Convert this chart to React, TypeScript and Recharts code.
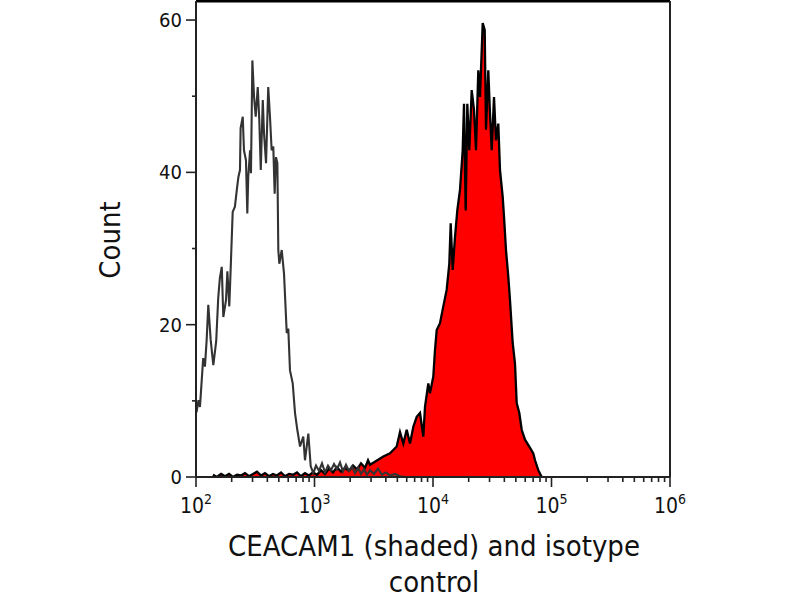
import React from 'react';
import { ComposedChart, Line, Area, XAxis, YAxis, Label, ReferenceLine } from 'recharts';

// Isotype control histogram (fluorescence intensity, count)
const isotypeIntensity = [
  101, 105, 108, 111, 115, 119, 123, 127, 133, 140, 148, 154, 159, 165, 170, 179, 184, 191, 196,
  204, 213, 221, 228, 235, 238, 248, 254, 264, 271, 276, 286, 291, 299, 309, 319, 332, 342, 352,
  366, 375, 390, 407, 421, 435, 449, 461, 473, 486, 495, 505, 529, 553, 583, 601, 621, 655, 685,
  716, 755, 804, 831, 887, 929, 977, 1030, 1091, 1157, 1226, 1300, 1378, 1461, 1548, 1641, 1740,
  1844, 1955, 2073, 2197, 2329, 2469, 2617, 2774, 2941, 3178, 3435, 3712, 4012, 4336, 4778, 5266,
  5803,
];
const isotypeCount = [
  8.5, 10.1, 9.2, 12, 15.6, 14.5, 18, 22.6, 18, 14.7, 17.8, 23.5, 26.1, 27.6, 21, 23.2, 27, 22.4, 27.2,
  34.8, 35.5, 37.7, 39.4, 40.3, 45.8, 47.3, 42.9, 41.6, 34.6, 39.4, 42.9, 39.9, 54.7, 49.9, 47.3, 51.2, 46.9, 40.3,
  49.5, 45.1, 41.2, 51.2, 47.3, 42.9, 43.4, 37.2, 42, 41.2, 29.8, 28, 29.8, 26.7, 18.9, 19.5, 14, 12.3, 8.4,
  6.2, 4, 5.3, 2.2, 5.7, 1.4, 0.5, 1.5, 0.8, 1.8, 0.6, 1.5, 0.9, 1.7, 1.0, 1.9, 0.7,
  1.6, 0.8, 1.4, 0.5, 1.2, 0.4, 1.0, 0.3, 0.9, 0.4, 1.1, 0.3, 0.6, 0.2, 0.4, 0.1,
  0,
];

// CEACAM1 stained histogram (shaded)
const ceacamIntensity = [
  139, 150, 163, 176, 190, 205, 222, 240, 259, 280, 303, 327, 354, 382, 413, 446, 482, 522, 564,
  609, 659, 712, 769, 831, 898, 971, 1050, 1134, 1226, 1326, 1432, 1548, 1673, 1809, 1955, 2113,
  2284, 2469, 2668, 2829, 2941, 3807, 4336, 4939, 5266, 5616, 6000, 6398, 6821, 7286, 7770, 8282,
  8560, 9127, 9434, 10059, 10397, 10746, 11457, 12216, 13048, 13725, 14104, 14661, 15333, 16034,
  16896, 17806, 18262, 18874, 19475, 20245, 21212, 22182, 23062, 24117, 24925, 26267, 27309, 28010,
  29289, 30270, 31289, 32720, 34012, 35572, 36764, 38744, 39737, 41305, 43193, 44648, 47052, 49204,
  50854, 53495, 56050, 59760, 64960, 70230, 72590, 77380, 82650,
];
const ceacamCount = [
  0.3, 0, 0.4, 0.1, 0.4, 0, 0.3, 0.2, 0.5, 0.1, 0.4, 0.7, 0.2, 0.5, 0.1, 0.4, 0.2, 0.6, 0.1,
  0.4, 0.3, 0.6, 0.1, 0.5, 0.2, 0.6, 0.3, 0.9, 0.4, 1.1, 0.6, 1.3, 0.7, 1.2, 0.8, 1.5,
  1.0, 1.8, 1.2, 2.2, 1.6, 2.7, 3.1, 4.0, 5.9, 4.4, 6.2, 4.4, 6.6, 7.9, 8.4, 5.3,
  9.2, 12.3, 11, 13.2, 16.7, 19.3, 20.2, 22.4, 24.6, 28, 33.3, 27.2, 31.5, 35,
  37.7, 42.9, 49, 35, 49, 42.9, 50.8, 48.2, 42.9, 53.4, 49.9, 59.6, 58.7, 45.6,
  53.4, 47.7, 42.9, 49.9, 44.2, 46.4, 40.3, 36.8, 34.2, 29.8, 26.3, 23.2, 17.6, 14.9,
  9.7, 8.4, 6.2, 4.9, 4.0, 3.1, 2.2, 0.9, 0,
];

const xTicks = [
  100, 200, 300, 400, 500, 600, 700, 800, 900,
  1000, 2000, 3000, 4000, 5000, 6000, 7000, 8000, 9000,
  10000, 20000, 30000, 40000, 50000, 60000, 70000, 80000, 90000,
  100000, 200000, 300000, 400000, 500000, 600000, 700000, 800000, 900000,
  1000000,
];
const yTicks = [0, 10, 20, 30, 40, 50, 60];
const yLabelled = [0, 20, 40, 60];
const xMax = 1000000;
const yMax = 62.5;

const xTitle = ['CEACAM1 (shaded) and isotype', 'control'];
const yTitle = 'Count';

const isotypeData = isotypeIntensity.map((x, i) => ({ x, count: isotypeCount[i] }));
const ceacamData = ceacamIntensity.map((x, i) => ({ x, count: ceacamCount[i] }));

const FONT = '"DejaVu Sans Condensed", "DejaVu Sans", sans-serif';
const AXIS = '#222';

const XTick = (props: any) => {
  const { x, y, payload } = props;
  const lg = Math.log10(payload.value);
  const exp = Math.round(lg);
  const major = Math.abs(lg - exp) < 1e-6;
  return (
    <g>
      <line x1={x} x2={x} y1={y} y2={y + (major ? 10 : 5)} stroke={AXIS} strokeWidth={1.6} />
      {major && (
        <text x={x} y={y + 36} textAnchor="middle" fontSize={21} fill="#111" fontFamily={FONT}>
          <tspan>10</tspan>
          <tspan dy={-9} fontSize={14}>{exp}</tspan>
        </text>
      )}
    </g>
  );
};

const YTick = (props: any) => {
  const { x, y, payload } = props;
  const v = payload.value;
  const labelled = yLabelled.includes(v);
  return (
    <g>
      <line x1={x} x2={x - (labelled ? 10 : 4)} y1={y} y2={y} stroke={AXIS} strokeWidth={1.6} />
      {labelled && (
        <text x={x - 14} y={y + 7} textAnchor="end" fontSize={20} fill="#111" fontFamily={FONT}>
          {v}
        </text>
      )}
    </g>
  );
};

const XTitle = (props: any) => {
  const vb = props.viewBox || { x: 196, y: 477, width: 474 };
  const cx = vb.x + vb.width / 2;
  return (
    <g>
      <text x={cx + 1} y={vb.y + 79} textAnchor="middle" fontSize={29} fill="#111" fontFamily={FONT}>
        {xTitle[0]}
      </text>
      <text x={cx + 1} y={vb.y + 115} textAnchor="middle" fontSize={29} fill="#111" fontFamily={FONT}>
        {xTitle[1]}
      </text>
    </g>
  );
};

const YTitle = () => {
  const cy = 240;
  const cx = 120;
  return (
    <text
      x={cx}
      y={cy}
      textAnchor="middle"
      fontSize={29}
      fill="#111"
      fontFamily={FONT}
      transform={`rotate(-90 ${cx} ${cy})`}
    >
      {yTitle}
    </text>
  );
};

export default function App() {
  return (
    <div style={{ position: 'absolute', left: 0, top: 0, width: 800, height: 600, background: '#fff' }}>
      <ComposedChart
        width={800}
        height={600}
        margin={{ top: 1, right: 130, bottom: 83, left: 136 }}
      >
        <XAxis
          xAxisId="main"
          dataKey="x"
          type="number"
          scale="log"
          domain={[100, xMax]}
          allowDataOverflow
          ticks={xTicks}
          interval={0}
          tick={<XTick />}
          tickLine={false}
          tickSize={0}
          tickMargin={0}
          axisLine={{ stroke: AXIS, strokeWidth: 2 }}
          height={40}
        >
          <Label content={<XTitle />} />
        </XAxis>
        <YAxis
          yAxisId="main"
          type="number"
          domain={[0, yMax]}
          allowDataOverflow
          ticks={yTicks}
          interval={0}
          tick={<YTick />}
          tickLine={false}
          tickSize={0}
          tickMargin={0}
          axisLine={{ stroke: AXIS, strokeWidth: 2 }}
          width={60}
        >
          <Label content={<YTitle />} />
        </YAxis>
        <Area
          xAxisId="main"
          yAxisId="main"
          data={ceacamData}
          dataKey="count"
          type="linear"
          stroke="#000"
          strokeWidth={2.3}
          fill="#ff0000"
          fillOpacity={1}
          isAnimationActive={false}
          dot={false}
          activeDot={false}
        />
        <Line
          xAxisId="main"
          yAxisId="main"
          data={isotypeData}
          dataKey="count"
          type="linear"
          stroke="#333"
          strokeWidth={2.1}
          dot={false}
          activeDot={false}
          isAnimationActive={false}
        />
        <ReferenceLine xAxisId="main" yAxisId="main" y={yMax} stroke="#000" strokeWidth={3} ifOverflow="visible" />
        <ReferenceLine xAxisId="main" yAxisId="main" x={xMax} stroke={AXIS} strokeWidth={2} ifOverflow="visible" />
      </ComposedChart>
    </div>
  );
}
